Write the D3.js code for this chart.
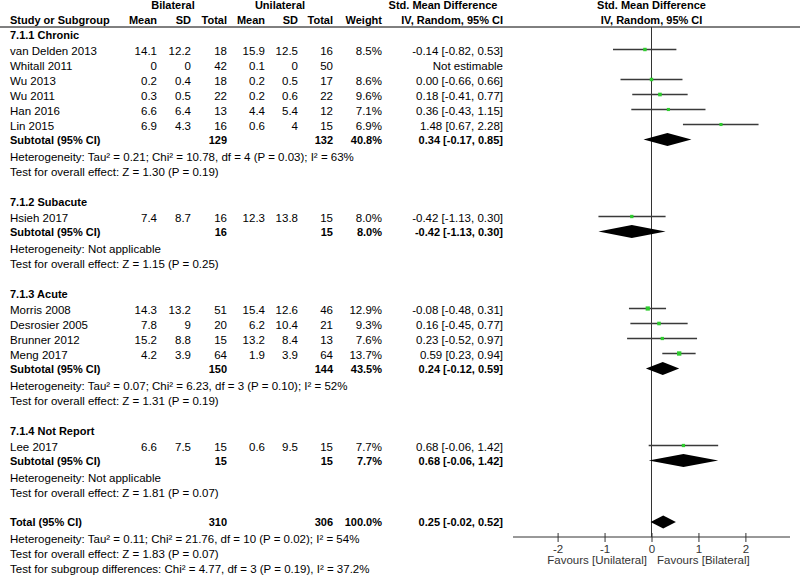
<!DOCTYPE html>
<html><head><meta charset="utf-8">
<script src="https://cdn.jsdelivr.net/npm/d3@7/dist/d3.min.js"></script>
<style>body{margin:0;background:#fff}</style>
</head><body><svg id="c" width="800" height="576"></svg>
<script>
// ---------- DATA ----------
const groupNames = ["7.1.1 Chronic", "7.1.2 Subacute", "7.1.3 Acute", "7.1.4 Not Report"];
const studyGroup = [0, 0, 0, 0, 0, 0, 1, 2, 2, 2, 2, 3];
const studyNames = ["van Delden 2013", "Whitall 2011", "Wu 2013", "Wu 2011", "Han 2016", "Lin 2015",
  "Hsieh 2017", "Morris 2008", "Desrosier 2005", "Brunner 2012", "Meng 2017", "Lee 2017"];
const bilMean = [14.1, 0, 0.2, 0.3, 6.6, 6.9, 7.4, 14.3, 7.8, 15.2, 4.2, 6.6];
const bilSD   = [12.2, 0, 0.4, 0.5, 6.4, 4.3, 8.7, 13.2, 9, 8.8, 3.9, 7.5];
const bilN    = [18, 42, 18, 22, 13, 16, 16, 51, 20, 15, 64, 15];
const uniMean = [15.9, 0.1, 0.2, 0.2, 4.4, 0.6, 12.3, 15.4, 6.2, 13.2, 1.9, 0.6];
const uniSD   = [12.5, 0, 0.5, 0.6, 5.4, 4, 13.8, 12.6, 10.4, 8.4, 3.9, 9.5];
const uniN    = [16, 50, 17, 22, 12, 15, 15, 46, 21, 13, 64, 15];
const weights = [8.5, null, 8.6, 9.6, 7.1, 6.9, 8.0, 12.9, 9.3, 7.6, 13.7, 7.7];
const smd     = [-0.14, null, 0.00, 0.18, 0.36, 1.48, -0.42, -0.08, 0.16, 0.23, 0.59, 0.68];
const ciLow   = [-0.82, null, -0.66, -0.41, -0.43, 0.67, -1.13, -0.48, -0.45, -0.52, 0.23, -0.06];
const ciHigh  = [0.53, null, 0.66, 0.77, 1.15, 2.28, 0.30, 0.31, 0.77, 0.97, 0.94, 1.42];

const subBilN   = [129, 16, 150, 15];
const subUniN   = [132, 15, 144, 15];
const subWeight = [40.8, 8.0, 43.5, 7.7];
const subSmd    = [0.34, -0.42, 0.24, 0.68];
const subLow    = [-0.17, -1.13, -0.12, -0.06];
const subHigh   = [0.85, 0.30, 0.59, 1.42];
const subHet = [
  "Heterogeneity: Tau² = 0.21; Chi² = 10.78, df = 4 (P = 0.03); I² = 63%",
  "Heterogeneity: Not applicable",
  "Heterogeneity: Tau² = 0.07; Chi² = 6.23, df = 3 (P = 0.10); I² = 52%",
  "Heterogeneity: Not applicable"];
const subTest = [
  "Test for overall effect: Z = 1.30 (P = 0.19)",
  "Test for overall effect: Z = 1.15 (P = 0.25)",
  "Test for overall effect: Z = 1.31 (P = 0.19)",
  "Test for overall effect: Z = 1.81 (P = 0.07)"];

const totalBilN = 310, totalUniN = 306, totalWeight = 100.0;
const totalSmd = 0.25, totalLow = -0.02, totalHigh = 0.52;
const totalNotes = [
  "Heterogeneity: Tau² = 0.11; Chi² = 21.76, df = 10 (P = 0.02); I² = 54%",
  "Test for overall effect: Z = 1.83 (P = 0.07)",
  "Test for subgroup differences: Chi² = 4.77, df = 3 (P = 0.19), I² = 37.2%"];

const axisTicks = [-2, -1, 0, 1, 2];
const favourLeft = "Favours [Unilateral]";
const favourRight = "Favours [Bilateral]";

// ---------- LAYOUT ----------
const svg = d3.select("#c");
svg.append("rect").attr("width", 800).attr("height", 576).attr("fill", "#fff");
const FONT = "Arial, 'Liberation Sans', sans-serif";
function txt(x, y, s, o = {}) {
  return svg.append("text").attr("x", x).attr("y", y).attr("dy", "0.35em")
    .attr("font-family", FONT).attr("font-size", o.size || (o.bold ? 11 : 11.5))
    .attr("font-weight", o.bold ? "bold" : "normal")
    .attr("text-anchor", o.anchor || "start").attr("fill", o.fill || "#000").text(s);
}
const col = {name: 10, bMean: 157, bSD: 191, bN: 227, uMean: 265, uSD: 298, uN: 333, w: 382, ci: 503};
const x = d3.scaleLinear().domain([-2.95, 2.95]).range([513, 790]);
const sq = d3.scaleSqrt().domain([0, 14]).range([0, 4.4]);
const fmt2 = d3.format(".2f");
const ciText = (m, l, h) => `${fmt2(m)} [${fmt2(l)}, ${fmt2(h)}]`.replace(/−/g, "-");

// rows
const rows = [];
groupNames.forEach((g, gi) => {
  rows.push({type: "group", gi});
  studyNames.forEach((s, i) => { if (studyGroup[i] === gi) rows.push({type: "study", i}); });
  rows.push({type: "subtotal", gi});
  rows.push({type: "het", text: subHet[gi]});
  rows.push({type: "test", text: subTest[gi]});
});
rows.push({type: "total"});
totalNotes.forEach(t => rows.push({type: "tnote", text: t}));

const step = {
  "group>study": 16, "study>study": 15, "study>subtotal": 14, "subtotal>het": 16.5,
  "het>test": 15.5, "test>group": 30, "test>total": 29.5, "total>tnote": 16.5, "tnote>tnote": 15
};
let yy = 35;
rows.forEach((r, k) => {
  if (k > 0) yy += step[rows[k - 1].type + ">" + r.type];
  r.y = yy;
});

// header
txt(173, 5, "Bilateral", {bold: true, anchor: "middle"});
txt(280, 5, "Unilateral", {bold: true, anchor: "middle"});
txt(443, 5, "Std. Mean Difference", {bold: true, anchor: "middle"});
txt(x(0), 5, "Std. Mean Difference", {bold: true, anchor: "middle"});
txt(col.name, 20, "Study or Subgroup", {bold: true});
[["Mean", col.bMean], ["SD", col.bSD], ["Total", col.bN], ["Mean", col.uMean], ["SD", col.uSD],
 ["Total", col.uN], ["Weight", col.w], ["IV, Random, 95% CI", col.ci]]
  .forEach(([t, cx]) => txt(cx, 20, t, {bold: true, anchor: "end"}));
txt(x(0), 20, "IV, Random, 95% CI", {bold: true, anchor: "middle"});
svg.append("line").attr("x1", 0).attr("x2", 800).attr("y1", 27).attr("y2", 27)
  .attr("stroke", "#000").attr("stroke-width", 1);

// zero line
const axisY = 537;
svg.append("line").attr("x1", x(0)).attr("x2", x(0)).attr("y1", 27).attr("y2", axisY)
  .attr("stroke", "#333").attr("stroke-width", 1);

const diamond = (m, l, h, cy, hh) =>
  `M${x(l)},${cy} L${x(m)},${cy - hh} L${x(h)},${cy} L${x(m)},${cy + hh} Z`;

rows.forEach(r => {
  if (r.type === "group") txt(col.name, r.y, groupNames[r.gi], {bold: true});
  else if (r.type === "study") {
    const i = r.i;
    txt(col.name, r.y, studyNames[i]);
    txt(col.bMean, r.y, String(bilMean[i]), {anchor: "end"});
    txt(col.bSD, r.y, String(bilSD[i]), {anchor: "end"});
    txt(col.bN, r.y, String(bilN[i]), {anchor: "end"});
    txt(col.uMean, r.y, String(uniMean[i]), {anchor: "end"});
    txt(col.uSD, r.y, String(uniSD[i]), {anchor: "end"});
    txt(col.uN, r.y, String(uniN[i]), {anchor: "end"});
    if (weights[i] != null) {
      txt(col.w, r.y, weights[i].toFixed(1) + "%", {anchor: "end"});
      txt(col.ci, r.y, ciText(smd[i], ciLow[i], ciHigh[i]), {anchor: "end"});
      const ly = r.y - 1.5;
      svg.append("line").attr("x1", x(ciLow[i])).attr("x2", x(ciHigh[i]))
        .attr("y1", ly).attr("y2", ly).attr("stroke", "#3a3a3a").attr("stroke-width", 1.3);
      const s = sq(weights[i]);
      svg.append("rect").attr("x", x(smd[i]) - s / 2).attr("y", ly - s / 2)
        .attr("width", s).attr("height", s).attr("fill", "#2ecc2e");
    } else {
      txt(col.ci, r.y, "Not estimable", {anchor: "end"});
    }
  } else if (r.type === "subtotal") {
    const g = r.gi;
    txt(col.name, r.y, "Subtotal (95% CI)", {bold: true});
    txt(col.bN, r.y, String(subBilN[g]), {bold: true, anchor: "end"});
    txt(col.uN, r.y, String(subUniN[g]), {bold: true, anchor: "end"});
    txt(col.w, r.y, subWeight[g].toFixed(1) + "%", {bold: true, anchor: "end"});
    txt(col.ci, r.y, ciText(subSmd[g], subLow[g], subHigh[g]), {bold: true, anchor: "end"});
    svg.append("path").attr("d", diamond(subSmd[g], subLow[g], subHigh[g], r.y - 0.5, 6.5)).attr("fill", "#000");
  } else if (r.type === "het" || r.type === "test" || r.type === "tnote") {
    txt(col.name, r.y, r.text);
  } else if (r.type === "total") {
    txt(col.name, r.y, "Total (95% CI)", {bold: true});
    txt(col.bN, r.y, String(totalBilN), {bold: true, anchor: "end"});
    txt(col.uN, r.y, String(totalUniN), {bold: true, anchor: "end"});
    txt(col.w, r.y, totalWeight.toFixed(1) + "%", {bold: true, anchor: "end"});
    txt(col.ci, r.y, ciText(totalSmd, totalLow, totalHigh), {bold: true, anchor: "end"});
    svg.append("path").attr("d", diamond(totalSmd, totalLow, totalHigh, r.y - 0.5, 6.5)).attr("fill", "#000");
  }
});

// axis
const ax = svg.append("g").attr("transform", `translate(0,${axisY})`)
  .call(d3.axisBottom(x).tickValues(axisTicks).tickSize(0).tickFormat(d3.format("d")));
ax.select(".domain").attr("stroke", "#333").attr("d", `M${x.range()[0]},0H${x.range()[1]}`);
ax.selectAll(".tick").append("line").attr("y1", -4).attr("y2", 5).attr("stroke", "#333");
ax.selectAll(".tick text").attr("y", 11.5).attr("dy", "0.35em")
  .attr("font-family", FONT).attr("font-size", 11.5).attr("fill", "#333")
  .text(d => String(d).replace("−", "-"));
txt(647, 560, favourLeft, {anchor: "end", fill: "#333"});
txt(657, 560, favourRight, {fill: "#333"});
</script></body></html>
